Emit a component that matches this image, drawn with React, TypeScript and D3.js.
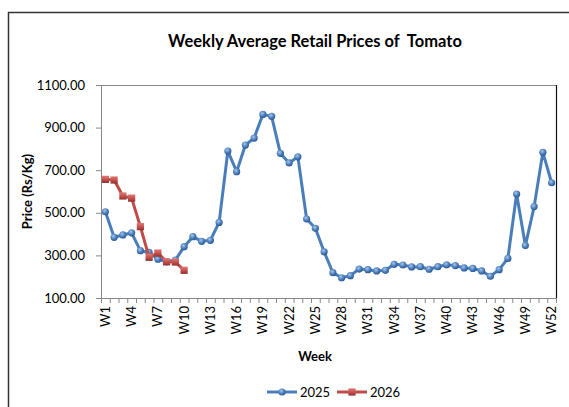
import React from "react";
import * as d3 from "d3";

const weeks: string[] = Array.from({ length: 52 }, (_, i) => `W${i + 1}`);
const prices2025: number[] = [
  505, 385, 396, 406, 322, 314, 282, 270, 278, 341,
  388, 366, 371, 455, 790, 693, 818, 851, 962, 953,
  779, 734, 763, 471, 427, 317, 219, 195, 205, 236,
  233, 227, 230, 258, 255, 246, 247, 235, 247, 256,
  252, 241, 239, 227, 202, 233, 286, 588, 346, 529,
  784, 641,
];
const prices2026: number[] = [657, 654, 579, 569, 435, 291, 311, 270, 269, 230];
const yTicks: number[] = [100, 300, 500, 700, 900, 1100];
const shownWeekLabels: string[] = weeks.filter((_, i) => i % 3 === 0);

const W = 569;
const H = 407;
const m = { left: 101, right: 556, top: 85, bottom: 298 };
const font = "Lato, 'Open Sans', sans-serif";

export default function App() {
  const x = d3.scaleBand<string>().domain(weeks).range([m.left, m.right]).padding(0);
  const cx = (w: string) => (x(w) as number) + x.bandwidth() / 2;
  const y = d3.scaleLinear().domain([100, 1100]).range([m.bottom, m.top]);
  const line = d3.line<number>().x((_, i) => cx(weeks[i])).y((d) => y(d));
  const blue = "#4a7ebb";
  const red = "#be4b48";
  const boundaries = d3.range(weeks.length + 1).map((i) => m.left + i * x.bandwidth());

  return (
    <svg width={W} height={H} style={{ position: "absolute", left: 0, top: 0, background: "#fff" }}>
      <defs>
        <radialGradient id="gb" cx="40%" cy="35%" r="65%">
          <stop offset="0%" stopColor="#a9c6ec" />
          <stop offset="60%" stopColor="#4a7ebb" />
          <stop offset="100%" stopColor="#2c5a93" />
        </radialGradient>
        <linearGradient id="gr" x1="0" y1="0" x2="0" y2="1">
          <stop offset="0%" stopColor="#e07a77" />
          <stop offset="60%" stopColor="#be4b48" />
          <stop offset="100%" stopColor="#8e2f2d" />
        </linearGradient>
      </defs>
      <rect x={8.5} y={12.5} width={W} height={H} fill="#fff" stroke="#333" strokeWidth={1.5} />
      <text
        x={315}
        y={47}
        textAnchor="middle"
        fontFamily={font}
        fontWeight="bold"
        fontSize={16.5}
        fill="#000"
        style={{ whiteSpace: "pre" }}
      >
        {"Weekly Average Retail Prices of  Tomato"}
      </text>
      {/* plot box */}
      <line x1={m.left} x2={m.right} y1={m.top + 0.5} y2={m.top + 0.5} stroke="#888" />
      <line x1={m.right + 0.5} x2={m.right + 0.5} y1={m.top} y2={m.bottom} stroke="#111" strokeWidth={1.2} />
      <line x1={m.left + 0.5} x2={m.left + 0.5} y1={m.top} y2={m.bottom} stroke="#888" />
      <line x1={m.left} x2={m.right} y1={m.bottom + 0.5} y2={m.bottom + 0.5} stroke="#888" />
      {yTicks.map((t) => (
        <g key={t}>
          <line x1={m.left - 5} x2={m.left} y1={y(t) + 0.5} y2={y(t) + 0.5} stroke="#888" />
          <text x={m.left - 16} y={y(t) + 4.5} textAnchor="end" fontFamily={font} fontSize={13} fill="#000">
            {t.toFixed(2)}
          </text>
        </g>
      ))}
      {boundaries.map((bx, i) => (
        <line key={i} x1={bx + 0.5} x2={bx + 0.5} y1={m.bottom} y2={m.bottom + 5} stroke="#888" />
      ))}
      {shownWeekLabels.map((w) => (
        <text
          key={w}
          transform={`translate(${cx(w) + 4.5},${m.bottom + 8}) rotate(-90)`}
          textAnchor="end"
          fontFamily={font}
          fontSize={13}
          fill="#000"
        >
          {w}
        </text>
      ))}
      <text x={315} y={361} textAnchor="middle" fontFamily={font} fontWeight="bold" fontSize={13} fill="#000">
        Week
      </text>
      <text
        transform={`translate(32,${(m.top + m.bottom) / 2}) rotate(-90)`}
        textAnchor="middle"
        fontFamily={font}
        fontWeight="bold"
        fontSize={13}
        fill="#000"
      >
        Price (Rs/Kg)
      </text>
      {/* series */}
      <path d={line(prices2025) || ""} fill="none" stroke={blue} strokeWidth={3} strokeLinejoin="round" />
      {prices2025.map((v, i) => (
        <circle key={i} cx={cx(weeks[i])} cy={y(v)} r={3.6} fill="url(#gb)" />
      ))}
      <path d={line(prices2026) || ""} fill="none" stroke={red} strokeWidth={3} strokeLinejoin="round" />
      {prices2026.map((v, i) => (
        <rect key={i} x={cx(weeks[i]) - 3.6} y={y(v) - 3.6} width={7.2} height={7.2} fill="url(#gr)" />
      ))}
      {/* legend */}
      <g>
        <line x1={267} x2={297} y1={392} y2={392} stroke={blue} strokeWidth={3} />
        <circle cx={282} cy={392} r={3.6} fill="url(#gb)" />
        <text x={300} y={397} fontFamily={font} fontSize={13} fill="#000">2025</text>
        <line x1={337} x2={367} y1={392} y2={392} stroke={red} strokeWidth={3} />
        <rect x={348.4} y={388.4} width={7.2} height={7.2} fill="url(#gr)" />
        <text x={370} y={397} fontFamily={font} fontSize={13} fill="#000">2026</text>
      </g>
    </svg>
  );
}
